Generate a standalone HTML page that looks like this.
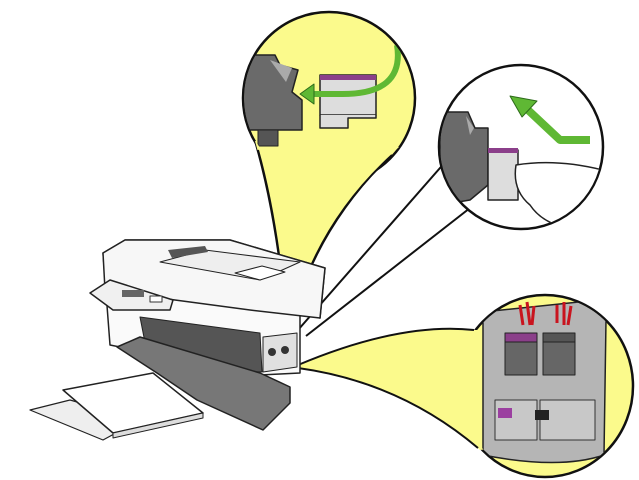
<!DOCTYPE html>
<html><head><style>body{margin:0;background:#fff}svg{display:block}</style></head><body>
<svg width="639" height="480" viewBox="0 0 639 480" xmlns="http://www.w3.org/2000/svg" stroke-linejoin="round">
<defs>
<clipPath id="c3"><ellipse cx="545" cy="386" rx="87" ry="90"/></clipPath>
<clipPath id="c2"><circle cx="521" cy="147" r="81"/></clipPath>
<clipPath id="c1"><circle cx="329" cy="98" r="85"/></clipPath>
</defs>
<!-- top yellow callout -->
<path d="M255,141 Q278,220 288,338 Q310,230 399,147 Z" fill="#fbfa8c" stroke="#111" stroke-width="2"/>
<circle cx="329" cy="98" r="86" fill="#fbfa8c" stroke="#111" stroke-width="2.5"/>
<path d="M255,141 Q278,220 288,338 Q310,230 399,147 Z" fill="#fbfa8c"/>
<path d="M258,150 Q279,225 288,338 Q310,230 392,155" fill="none" stroke="#111" stroke-width="2"/>
<g clip-path="url(#c1)">
<path d="M240,55 L275,55 L280,65 L298,70 L292,92 L302,100 L302,130 L240,130 Z" fill="#6a6a6a" stroke="#222" stroke-width="1.5"/>
<rect x="258" y="130" width="20" height="16" fill="#555" stroke="#222"/>
<path d="M270,60 L292,68 L286,82 Z" fill="#aaa"/>
<rect x="320" y="75" width="56" height="40" fill="#ddd" stroke="#222" stroke-width="1.5"/>
<rect x="320" y="75" width="56" height="5" fill="#8b3f8a"/>
<path d="M320,115 L320,128 L348,128 L348,118 L376,118 L376,115" fill="#ddd" stroke="#222" stroke-width="1.5"/>
<path d="M397,45 Q405,95 340,94 L310,94" fill="none" stroke="#5fb834" stroke-width="6"/>
<path d="M300,94 L314,84 L314,104 Z" fill="#5fb834" stroke="#2d6b1a"/>
</g>
<!-- right circle connectors -->
<line x1="298" y1="330" x2="447" y2="160" stroke="#111" stroke-width="2"/>
<line x1="306" y1="336" x2="470" y2="208" stroke="#111" stroke-width="2"/>
<circle cx="521" cy="147" r="82" fill="#fff" stroke="#111" stroke-width="2.5"/>
<g clip-path="url(#c2)">
<path d="M440,112 L468,112 L475,128 L488,128 L488,185 L470,200 L440,205 Z" fill="#6a6a6a" stroke="#222" stroke-width="1.5"/>
<path d="M466,116 L474,128 L470,135 Z" fill="#aaa"/>
<path d="M488,150 L518,150 L518,200 L488,200 Z" fill="#ddd" stroke="#222" stroke-width="1.5"/>
<rect x="488" y="148" width="30" height="5" fill="#8b3f8a"/>
<path d="M516,165 Q560,158 610,172 L610,230 Q550,235 530,205 Q512,190 516,165 Z" fill="#fff" stroke="#222" stroke-width="1.5"/>
<path d="M590,140 L560,140 L528,110" fill="none" stroke="#5fb834" stroke-width="8"/>
<path d="M510,96 L537,101 L522,117 Z" fill="#5fb834" stroke="#2d6b1a"/>
</g>
<!-- bottom yellow callout -->
<ellipse cx="545" cy="386" rx="88" ry="91" fill="#fbfa8c" stroke="#111" stroke-width="2.5"/>
<path d="M298,365 Q400,322 475,330 L495,330 L495,448 L480,450 Q400,382 298,368 Z" fill="#fbfa8c"/>
<path d="M298,365 Q400,322 474,330 M298,368 Q400,382 478,448" fill="none" stroke="#111" stroke-width="2"/>
<g clip-path="url(#c3)">
<path d="M483,312 L598,300 L606,320 L604,455 Q560,470 483,455 Z" fill="#b5b5b5" stroke="#222" stroke-width="1.5"/>
<rect x="505" y="340" width="32" height="35" fill="#666" stroke="#222"/>
<rect x="543" y="340" width="32" height="35" fill="#666" stroke="#222"/>
<rect x="505" y="333" width="32" height="9" fill="#8b3f8a" stroke="#222"/>
<rect x="543" y="333" width="32" height="9" fill="#555" stroke="#222"/>
<rect x="495" y="400" width="42" height="40" fill="#c8c8c8" stroke="#333"/>
<rect x="540" y="400" width="55" height="40" fill="#c8c8c8" stroke="#333"/>
<rect x="498" y="408" width="14" height="10" fill="#9b3fa0"/>
<rect x="535" y="410" width="14" height="10" fill="#222"/>
</g>
<path d="M520,305 L523,325 M527,302 L530,325 M534,306 L532,325 M557,305 L557,323 M564,302 L564,325 M571,306 L568,325" stroke="#c9141e" stroke-width="3"/>
<!-- printer -->
<path d="M103,253 L125,240 L230,240 L325,268 L320,318 L300,313 L300,373 L260,375 L110,345 Z" fill="#fafafa" stroke="#222" stroke-width="1.5"/>
<path d="M103,253 L125,240 L230,240 L325,268 L320,318 L250,310 L175,300 L105,290 Z" fill="#f7f7f7" stroke="#222" stroke-width="1.5"/>
<path d="M160,262 L205,250 L300,262 L260,280 Z" fill="#eee" stroke="#222"/>
<path d="M168,250 L205,246 L208,252 L172,258 Z" fill="#555"/>
<path d="M235,273 L262,266 L285,272 L260,280 Z" fill="#fff" stroke="#222"/>
<path d="M90,293 L110,280 L173,300 L170,310 L113,310 Z" fill="#f0f0f0" stroke="#222" stroke-width="1.5"/>
<rect x="122" y="290" width="22" height="7" fill="#666"/>
<rect x="150" y="296" width="12" height="6" fill="#fff" stroke="#333"/>
<path d="M140,317 L260,333 L262,372 L150,368 Z" fill="#555" stroke="#222"/>
<path d="M117,347 L140,337 L260,373 L290,387 L290,403 L263,430 L197,400 L157,373 Z" fill="#777" stroke="#222" stroke-width="1.5"/>
<path d="M30,410 L70,400 L140,420 L103,440 Z" fill="#eee" stroke="#222" stroke-width="1.2"/>
<path d="M63,390 L153,373 L203,413 L113,433 Z" fill="#fff" stroke="#222" stroke-width="1.5"/>
<path d="M113,433 L203,413 L203,418 L113,438 Z" fill="#ddd" stroke="#222"/>
<path d="M263,337 L297,333 L297,367 L263,372 Z" fill="#e0e0e0" stroke="#222"/>
<circle cx="272" cy="352" r="4" fill="#333"/><circle cx="285" cy="350" r="4" fill="#333"/>
</svg>
</body></html>
